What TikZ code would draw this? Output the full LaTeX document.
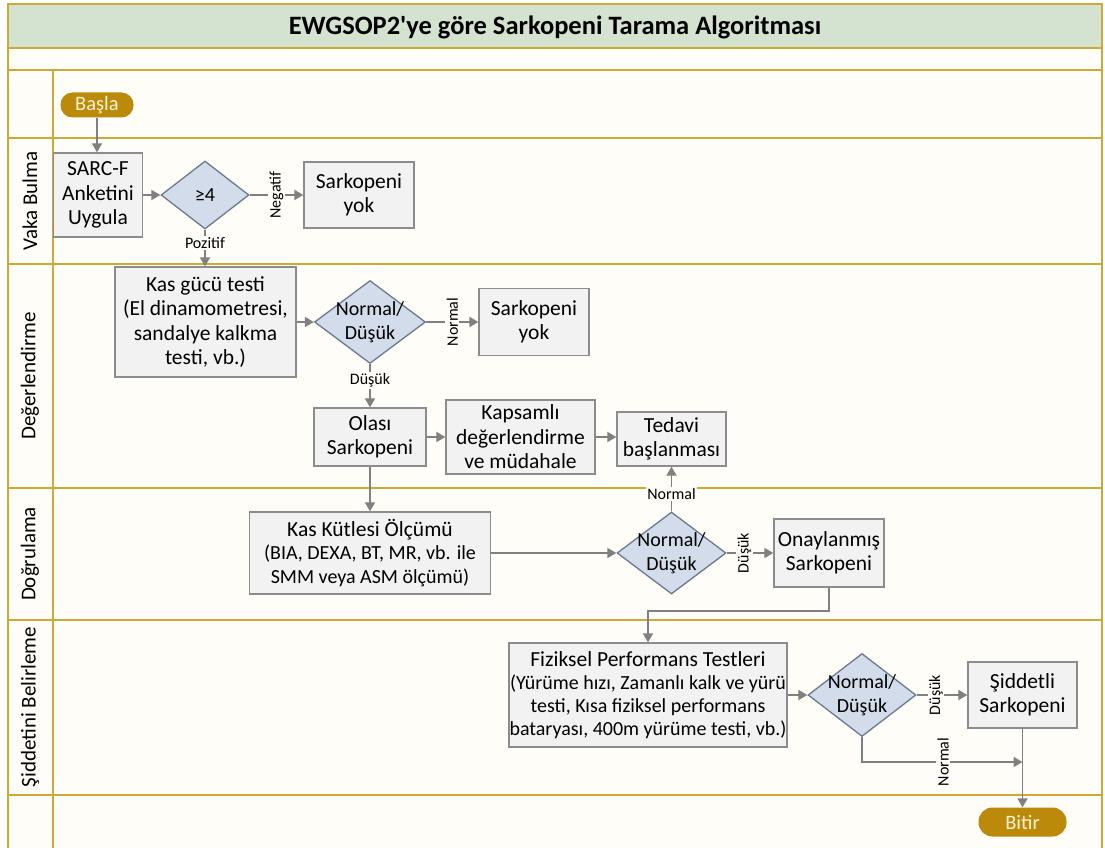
\documentclass[tikz,border=0pt]{standalone}
\usepackage{fontspec}
\setmainfont{Carlito}
\newfontfamily\titlefont{Carlito}
\usetikzlibrary{shapes.geometric,arrows.meta}
\definecolor{lanegold}{HTML}{CDA935}
\definecolor{lanebg}{HTML}{FFFDF8}
\definecolor{titlebg}{HTML}{D3E3CF}
\definecolor{boxfill}{HTML}{F2F2F2}
\definecolor{boxline}{HTML}{8C8C8C}
\definecolor{diafill}{HTML}{D2DCEA}
\definecolor{dialine}{HTML}{6A7A8C}
\definecolor{arrowc}{HTML}{808080}
\definecolor{pillfill}{HTML}{BC8A0A}
\definecolor{pilltext}{HTML}{FFF3D0}
\newcommand{\bigline}[1]{{\fontsize{21.5}{24.5}\selectfont #1}}
\begin{document}
\begin{tikzpicture}[x=1pt,y=-1pt,
  procbox/.style={draw=boxline, line width=1.3pt, fill=boxfill, align=center,
    font=\fontsize{21.5}{24.5}\selectfont, inner sep=0pt},
  smallbox/.style={procbox, font=\fontsize{20}{23.5}\selectfont},
  decision/.style={diamond, draw=dialine, line width=1.3pt, fill=diafill, inner sep=0pt},
  dtext/.style={align=center, font=\fontsize{20}{24}\selectfont},
  pill/.style={rounded corners=12pt, fill=pillfill, text=pilltext, inner sep=0pt,
    font=\fontsize{20.5}{22}\selectfont},
  conn/.style={draw=arrowc, line width=1.8pt, -{Triangle[length=9pt,width=10pt]}},
  vlbl/.style={rotate=90, fill=lanebg, inner sep=1.5pt, font=\fontsize{16}{18}\selectfont},
  hlbl/.style={fill=lanebg, inner sep=1.5pt, font=\fontsize{16}{18}\selectfont},
  lanelbl/.style={rotate=90, font=\fontsize{21}{24}\selectfont},
  laneline/.style={draw=lanegold, line width=1.8pt}
]
\useasboundingbox (0,0) rectangle (1105,848);
\fill[white] (0,0) rectangle (1105,848);
% background lanes
\fill[lanebg] (8,48) rectangle (1102,852);
\fill[titlebg] (8,4) rectangle (1102,48);
\node[font=\titlefont\fontsize{26.5}{30}\selectfont\bfseries] (title) at (555,27) {EWGSOP2'ye göre Sarkopeni Tarama Algoritması};
\draw[laneline] (8,852) -- (8,4) -- (1102,4) -- (1102,852);
\foreach \yy in {48,70,138,264,488,620,795} \draw[laneline] (8,\yy) -- (1102,\yy);
\draw[laneline] (53,70) -- (53,852);
% lane labels
\node[lanelbl] (l1) at (30,201) {Vaka Bulma};
\node[lanelbl] (l2) at (30,376) {Değerlendirme};
\node[lanelbl] (l3) at (30,554) {Doğrulama};
\node[lanelbl] (l4) at (30,707) {Şiddetini Belirleme};
% nodes
\node[pill, minimum width=73pt, minimum height=25pt] (start) at (97,105) {Başla};
\node[procbox, minimum width=89pt, minimum height=84pt] (sarcf) at (98,195) {SARC-F\\Anketini\\Uygula};
\node[decision, minimum width=88pt, minimum height=68pt, label={[dtext]center:≥4}] (d1) at (205,195) {};
\node[procbox, minimum width=110pt, minimum height=66pt] (sy1) at (359,195) {Sarkopeni\\yok};
\node[procbox, minimum width=181pt, minimum height=110pt] (kg) at (205.5,322) {Kas gücü testi\\(El dinamometresi,\\sandalye kalkma\\testi, vb.)};
\node[decision, minimum width=111pt, minimum height=83pt, label={[dtext]center:Normal/\\Düşük}] (d2) at (370,322) {};
\node[procbox, minimum width=110pt, minimum height=67pt] (sy2) at (534,322) {Sarkopeni\\yok};
\node[procbox, minimum width=112pt, minimum height=58pt] (olasi) at (370,437) {Olası\\Sarkopeni};
\node[procbox, minimum width=149pt, minimum height=74pt] (kap) at (520.5,437) {Kapsamlı\\değerlendirme\\ve müdahale};
\node[procbox, minimum width=109pt, minimum height=54pt] (ted) at (671.5,439) {Tedavi\\başlanması};
\node[smallbox, minimum width=241pt, minimum height=82pt] (kk) at (370,553) {\bigline{Kas Kütlesi Ölçümü}\\(BIA, DEXA, BT, MR, vb. ile\\SMM veya ASM ölçümü)};
\node[decision, minimum width=109pt, minimum height=82pt, label={[dtext]center:Normal/\\Düşük}] (d3) at (671.5,553) {};
\node[procbox, minimum width=110pt, minimum height=68pt] (onay) at (829,553) {Onaylanmış\\Sarkopeni};
\node[smallbox, minimum width=278pt, minimum height=104pt, font=\fontsize{20}{23}\selectfont] (fiz) at (648,695) {\bigline{Fiziksel Performans Testleri}\\(Yürüme hızı, Zamanlı kalk ve yürü\\testi, Kısa fiziksel performans\\bataryası, 400m yürüme testi, vb.)};
\node[decision, minimum width=108pt, minimum height=83pt, label={[dtext]center:Normal/\\Düşük}] (d4) at (862,695) {};
\node[procbox, minimum width=109pt, minimum height=66pt] (sid) at (1022.5,695) {Şiddetli\\Sarkopeni};
\node[pill, minimum width=88pt, minimum height=29pt, rounded corners=14pt] (end) at (1022.5,822) {Bitir};
\coordinate (join) at (1022.5,762);
% connectors
\draw[conn] (start.south) -- (start.south |- sarcf.north);
\draw[conn] (sarcf.east) -- (d1.west);
\draw[conn] (d1.east) -- node[vlbl]{Negatif} (sy1.west);
\draw[conn] (d1.south) -- node[hlbl, pos=0.37]{Pozitif} (d1.south |- kg.north);
\draw[conn] (kg.east) -- (d2.west);
\draw[conn] (d2.east) -- node[vlbl]{Normal} (sy2.west);
\draw[conn] (d2.south) -- node[hlbl, pos=0.38]{Düşük} (olasi.north);
\draw[conn] (olasi.east) -- (kap.west);
\draw[conn] (kap.east) -- (kap.east -| ted.west);
\draw[conn] (olasi.south) -- (kk.north);
\draw[conn] (kk.east) -- (d3.west);
\draw[conn] (d3.north) -- node[hlbl, pos=0.38]{Normal} (ted.south);
\draw[conn] (d3.east) -- node[vlbl, pos=0.38]{Düşük} (onay.west);
\draw[conn] (onay.south) -- ++(0,23) -| (fiz.north);
\draw[conn] (fiz.east) -- (d4.west);
\draw[conn] (d4.east) -- node[vlbl, pos=0.38]{Düşük} (sid.west);
\draw[conn] (d4.south) |- node[vlbl, pos=0.753]{Normal} (join);
\draw[conn] (sid.south) -- (end.north);
\end{tikzpicture}
\end{document}
